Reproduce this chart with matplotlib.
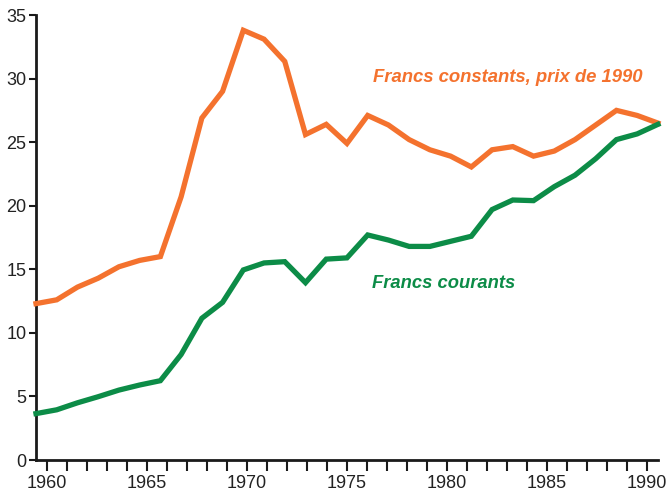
import matplotlib
matplotlib.use("Agg")
import matplotlib.pyplot as plt
import numpy as np

years = list(range(1960, 1991))
francs_constants = [12.3, 12.6, 13.6, 14.3, 15.2, 15.7, 16.0, 20.7, 26.9, 29.0,
                    33.8, 33.1, 31.35, 25.6, 26.4, 24.9, 27.1, 26.35, 25.2, 24.4,
                    23.9, 23.05, 24.4, 24.65, 23.9, 24.3, 25.2, 26.35, 27.5, 27.1,
                    26.5]
francs_courants = [3.65, 3.95, 4.5, 4.98, 5.5, 5.9, 6.24, 8.3, 11.15, 12.4,
                   14.95, 15.5, 15.6, 13.95, 15.8, 15.9, 17.7, 17.3, 16.8, 16.8,
                   17.2, 17.6, 19.7, 20.45, 20.4, 21.5, 22.4, 23.7, 25.2, 25.65,
                   26.4]
label_constants = "Francs constants, prix de 1990"
label_courants = "Francs courants"
y_ticks = [0, 5, 10, 15, 20, 25, 30, 35]
x_major = [1960, 1965, 1970, 1975, 1980, 1985, 1990]

ORANGE = "#F4722E"
GREEN = "#0C8C47"
FONT = ["Liberation Sans", "DejaVu Sans"]

fig = plt.figure(figsize=(6.68, 4.97), dpi=100)
ax = fig.add_axes([0.0539, 0.0744, 0.931, 0.8954])
ax.set_xlim(1959.47, 1990.56)
ax.set_ylim(0, 35)
for s in ["top", "right"]:
    ax.spines[s].set_visible(False)
for s in ["left", "bottom"]:
    ax.spines[s].set_linewidth(2.0)
    ax.spines[s].set_color("#1a1a1a")

ax.set_yticks(y_ticks)
ax.set_yticklabels([str(v) for v in y_ticks], fontfamily=FONT, fontsize=13, color="#222222")
ax.set_xticks(years, minor=True)
ax.set_xticks(x_major)
ax.set_xticklabels([str(v) for v in x_major], fontfamily=FONT, fontsize=13, color="#222222")
ax.tick_params(axis="y", direction="out", length=5, width=1.5, pad=2, color="#1a1a1a")
ax.tick_params(axis="x", which="both", direction="out", length=8, width=1.5,
               color="#1a1a1a", pad=3)

# data axis: series stretched over the full axis width as in the original
axd = ax.twiny()
axd.set_xlim(years[0], years[-1])
axd.set_ylim(0, 35)
axd.set_axis_off()
axd.plot(years, francs_constants, color=ORANGE, lw=3.8, solid_joinstyle="miter", clip_on=False)
axd.plot(years, francs_courants, color=GREEN, lw=3.8, solid_joinstyle="miter", clip_on=False)

ax.text(1976.3, 30.05, label_constants, color=ORANGE, fontsize=13.3, fontweight="bold",
        fontstyle="italic", fontfamily=FONT, va="center", ha="left")
ax.text(1976.25, 13.9, label_courants, color=GREEN, fontsize=13.2, fontweight="bold",
        fontstyle="italic", fontfamily=FONT, va="center", ha="left")

fig.savefig("out.png", dpi=100)
